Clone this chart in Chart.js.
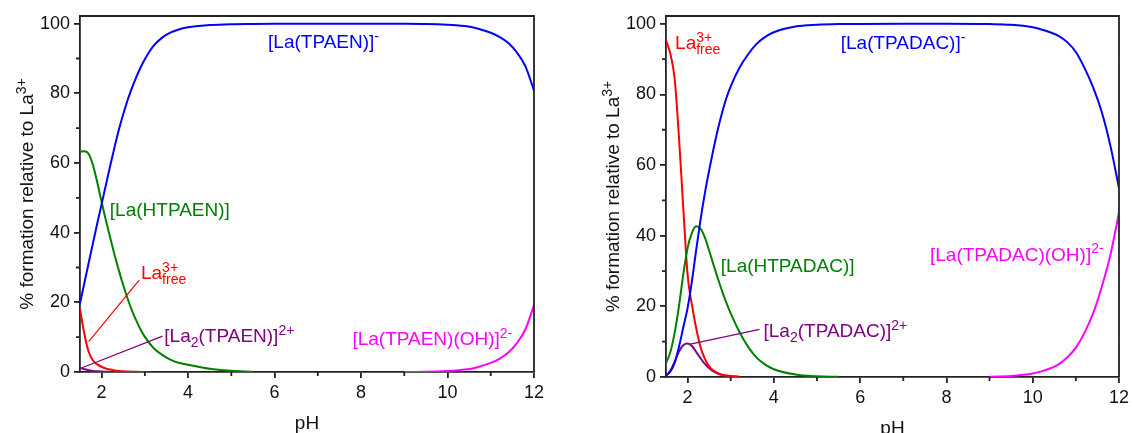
<!DOCTYPE html>
<html>
<head>
<meta charset="utf-8">
<title>La(III) speciation</title>
<script src="https://cdn.jsdelivr.net/npm/chart.js@4.4.1/dist/chart.umd.min.js"></script>
<style>
  html, body { margin: 0; padding: 0; background: #fff; overflow: hidden; }
  canvas { position: absolute; top: 0; }
  #left { left: 0; }
  #right { left: 566px; }
</style>
</head>
<body>
<canvas id="left" width="566" height="433"></canvas>
<canvas id="right" width="567" height="433"></canvas>
<script>
// pH grid shared by all species curves
const pH = [1.5, 1.6, 1.7, 1.8, 1.9, 2.0, 2.1, 2.2, 2.3, 2.4, 2.5, 2.6, 2.7, 2.8, 2.9, 3.0,
  3.2, 3.4, 3.6, 3.8, 4.0, 4.5, 5.0, 5.5, 6, 7, 8, 9, 9.5, 10,
  10.2, 10.4, 10.6, 10.8, 11, 11.2, 11.4, 11.6, 11.8, 12];

// TPAEN system, % of total La3+
const tpaenML = [19.7, 25.5, 31.3, 37, 42.7, 48.2, 53.8, 59.3, 64.6, 69.6, 74, 78, 81.5, 84.6, 87.4, 89.8,
  93.6, 96, 97.5, 98.4, 99.0, 99.6, 99.85, 99.93, 99.97, 100, 100, 99.97, 99.9, 99.7,
  99.55, 99.3, 98.9, 98.2, 97.4, 96.2, 94.5, 91.8, 87.8, 80.8];
const tpaenMHL = [63.2, 63.4, 62.6, 59.4, 54.4, 48.8, 43.5, 38.5, 33.6, 29.1, 24.9, 21.1, 17.7, 14.8, 12.2, 10.1,
  6.9, 4.9, 3.5, 2.6, 2.1, 0.9, 0.35, 0.1, null, null, null, null, null, null,
  null, null, null, null, null, null, null, null, null, null];
const tpaenFree = [18, 11, 5.8, 3.3, 2.2, 1.5, 1.0, 0.7, 0.45, 0.3, 0.2, 0.12, 0.07, 0.04, 0.02, 0.01,
  null, null, null, null, null, null, null, null, null, null, null, null, null, null,
  null, null, null, null, null, null, null, null, null, null];
const tpaenM2L = [1.15, 0.8, 0.5, 0.32, 0.2, 0.13, 0.08, 0.05, 0.03, 0.02, 0.01, 0.01, 0, 0, 0, 0,
  0, null, null, null, null, null, null, null, null, null, null, null, null, null,
  null, null, null, null, null, null, null, null, null, null];
const tpaenMLOH = [null, null, null, null, null, null, null, null, null, null, null, null, null, null, null, null,
  null, null, null, null, null, null, null, null, null, null, null, 0.02, 0.08, 0.3,
  0.45, 0.7, 1.1, 1.8, 2.6, 3.8, 5.5, 8.2, 12.2, 19.2];

// TPADAC system, % of total La3+
const tpadacML = [0.5, 1.5, 4, 8.5, 14, 19.5, 27, 36, 44.5, 52, 58.5, 64.5, 70, 74.8, 79, 82.3,
  87.5, 91.3, 94.3, 96.3, 97.6, 99.2, 99.7, 99.9, 99.95, 100, 100, 99.9, 99.7, 99.0,
  98.4, 97.6, 96.6, 94.8, 92, 87.5, 82, 75, 65.5, 53.5];
const tpadacMHL = [3.9, 7, 12.5, 20, 29, 36.5, 40.8, 42.7, 42, 39.5, 35.8, 31.8, 28, 24.3, 21, 18,
  12.8, 8.6, 5.5, 3.5, 2.2, 0.7, 0.2, 0.05, null, null, null, null, null, null,
  null, null, null, null, null, null, null, null, null, null];
const tpadacFree = [95.3, 91.5, 84.5, 68, 48, 29, 20.5, 13.8, 8.5, 5.2, 3.0, 1.8, 1.1, 0.65, 0.4, 0.25,
  0.08, null, null, null, null, null, null, null, null, null, null, null, null, null,
  null, null, null, null, null, null, null, null, null, null];
const tpadacM2L = [0.3, 1.8, 4.3, 7.2, 9.0, 9.5, 8.8, 7.1, 5.3, 3.7, 2.5, 1.6, 1.0, 0.6, 0.35, 0.2,
  0.05, null, null, null, null, null, null, null, null, null, null, null, null, null,
  null, null, null, null, null, null, null, null, null, null];
const tpadacMLOH = [null, null, null, null, null, null, null, null, null, null, null, null, null, null, null, null,
  null, null, null, null, null, null, null, null, null, null, null, 0.05, 0.3, 1.0,
  1.6, 2.4, 3.6, 5.5, 8.3, 12.5, 18, 25.5, 34.5, 46.5];

const xTicks = [2, 4, 6, 8, 10, 12];
const xMinor = [3, 5, 7, 9, 11];
const yTicks = [0, 20, 40, 60, 80, 100];
const yMinor = [10, 30, 50, 70, 90];

const FONT = '"Liberation Sans", Arial, sans-serif';
const INK = '#111';
const AXIS = '#222';
const C = { blue: '#0000ff', green: '#008000', red: '#ff0000', purple: '#800080', magenta: '#ff00ff' };

// rich text: strings are normal size, {sup, sub} objects are small and shifted
function partWidth(ctx, p, size, small) {
  if (typeof p === 'string') { ctx.font = size + 'px ' + FONT; return ctx.measureText(p).width; }
  ctx.font = small + 'px ' + FONT;
  return Math.max(p.sup ? ctx.measureText(p.sup).width : 0, p.sub ? ctx.measureText(p.sub).width : 0);
}
function richWidth(ctx, parts, size, small) {
  return parts.reduce((w, p) => w + partWidth(ctx, p, size, small), 0);
}
function drawRich(ctx, parts, x, y, color, size = 19, small = 14) {
  ctx.fillStyle = color;
  ctx.textAlign = 'left';
  ctx.textBaseline = 'middle';
  let cx = x;
  for (const p of parts) {
    const w = partWidth(ctx, p, size, small);
    if (typeof p === 'string') {
      ctx.font = size + 'px ' + FONT;
      ctx.fillText(p, cx, y);
    } else {
      ctx.font = small + 'px ' + FONT;
      if (p.sup) ctx.fillText(p.sup, cx, y - 6);
      if (p.sub) ctx.fillText(p.sub, cx, y + 6);
    }
    cx += w;
  }
}

// frame, minor ticks, axis titles and species labels
const decor = {
  id: 'decor',
  afterDraw(chart, args, o) {
    const { ctx, chartArea: a, scales: { x, y } } = chart;
    ctx.save();
    ctx.strokeStyle = AXIS;
    ctx.lineWidth = 1.8;
    ctx.beginPath();
    ctx.moveTo(a.left, a.top); ctx.lineTo(a.right, a.top); ctx.lineTo(a.right, a.bottom);
    xMinor.forEach(v => { const px = x.getPixelForValue(v); ctx.moveTo(px, a.bottom); ctx.lineTo(px, a.bottom + 4); });
    yMinor.forEach(v => { const py = y.getPixelForValue(v); ctx.moveTo(a.left, py); ctx.lineTo(a.left - 4, py); });
    ctx.stroke();

    // leader lines
    ctx.lineWidth = 1.2;
    o.leaders.forEach(l => {
      ctx.strokeStyle = l.color;
      ctx.beginPath();
      ctx.moveTo(x.getPixelForValue(l.from[0]), y.getPixelForValue(l.from[1]));
      ctx.lineTo(x.getPixelForValue(l.to[0]), y.getPixelForValue(l.to[1]));
      ctx.stroke();
    });

    o.labels.forEach(l => drawRich(ctx, l.parts, x.getPixelForValue(l.at[0]), y.getPixelForValue(l.at[1]), l.color));

    // x title
    ctx.font = '19px ' + FONT;
    ctx.fillStyle = INK;
    ctx.textAlign = 'center';
    ctx.textBaseline = 'alphabetic';
    ctx.fillText('pH', (a.left + a.right) / 2, a.bottom + 57);

    // y title, rotated
    const yt = ['% formation relative to La', { sup: '3+' }];
    ctx.translate(a.left - 52, (a.top + a.bottom) / 2);
    ctx.rotate(-Math.PI / 2);
    drawRich(ctx, yt, -richWidth(ctx, yt, 19, 14) / 2, 0, INK);
    ctx.restore();
  }
};

function makeChart(id, series, yWidth, xHeight, padRight, notes) {
  const names = ['ML', 'MHL', 'free', 'M2L', 'MLOH'];
  const colors = [C.blue, C.green, C.red, C.purple, C.magenta];
  return new Chart(document.getElementById(id), {
    type: 'line',
    data: {
      datasets: series.map((vals, i) => ({
        label: names[i],
        data: pH.map((v, j) => ({ x: v, y: vals[j] })),
        borderColor: colors[i],
        borderWidth: 2,
        pointRadius: 0,
        fill: false,
        cubicInterpolationMode: 'monotone'
      }))
    },
    options: {
      responsive: false,
      animation: false,
      devicePixelRatio: 1,
      layout: { padding: { top: 16, right: padRight, left: 0, bottom: 0 } },
      plugins: { legend: { display: false }, tooltip: { enabled: false }, decor: notes },
      scales: {
        x: {
          type: 'linear', min: 1.5, max: 12,
          afterBuildTicks: s => { s.ticks = xTicks.map(value => ({ value })); },
          afterFit: s => { s.height = xHeight; },
          grid: { drawOnChartArea: false, color: AXIS, lineWidth: 1.8, tickLength: 6 },
          border: { display: true, color: AXIS, width: 1.8 },
          ticks: { color: INK, padding: 4, font: { family: FONT, size: 18 }, maxRotation: 0 }
        },
        y: {
          type: 'linear', min: 0, max: 102.2,
          afterBuildTicks: s => { s.ticks = yTicks.map(value => ({ value })); },
          afterFit: s => { s.width = yWidth; },
          grid: { drawOnChartArea: false, color: AXIS, lineWidth: 1.8, tickLength: 6 },
          border: { display: true, color: AXIS, width: 1.8 },
          ticks: { color: INK, padding: 4, font: { family: FONT, size: 18 } }
        }
      }
    },
    plugins: [decor]
  });
}

makeChart('left', [tpaenML, tpaenMHL, tpaenFree, tpaenM2L, tpaenMLOH], 80, 61, 32, {
  labels: [
    { parts: ['[La(TPAEN)]', { sup: '-' }], at: [5.85, 94.4], color: C.blue },
    { parts: ['[La(HTPAEN)]'], at: [2.19, 46.4], color: C.green },
    { parts: ['La', { sup: '3+', sub: 'free' }], at: [2.91, 28.1], color: C.red },
    { parts: ['[La', { sub: '2' }, '(TPAEN)]', { sup: '2+' }], at: [3.45, 10.1], color: C.purple },
    { parts: ['[La(TPAEN)(OH)]', { sup: '2-' }], at: [7.8, 9.2], color: C.magenta }
  ],
  leaders: [
    { from: [1.70, 8.7], to: [2.87, 26.4], color: C.red },
    { from: [1.52, 1.06], to: [3.41, 10.3], color: C.purple }
  ]
});

makeChart('right', [tpadacML, tpadacMHL, tpadacFree, tpadacM2L, tpadacMLOH], 100, 56, 11, {
  labels: [
    { parts: ['La', { sup: '3+', sub: 'free' }], at: [1.71, 94.3], color: C.red },
    { parts: ['[La(TPADAC)]', { sup: '-' }], at: [5.55, 94.3], color: C.blue },
    { parts: ['[La(HTPADAC)]'], at: [2.77, 31.3], color: C.green },
    { parts: ['[La', { sub: '2' }, '(TPADAC)]', { sup: '2+' }], at: [3.76, 12.7], color: C.purple },
    { parts: ['[La(TPADAC)(OH)]', { sup: '2-' }], at: [7.62, 34.4], color: C.magenta }
  ],
  leaders: [
    { from: [2.04, 9.25], to: [3.67, 13.5], color: C.purple }
  ]
});
</script>
</body>
</html>
